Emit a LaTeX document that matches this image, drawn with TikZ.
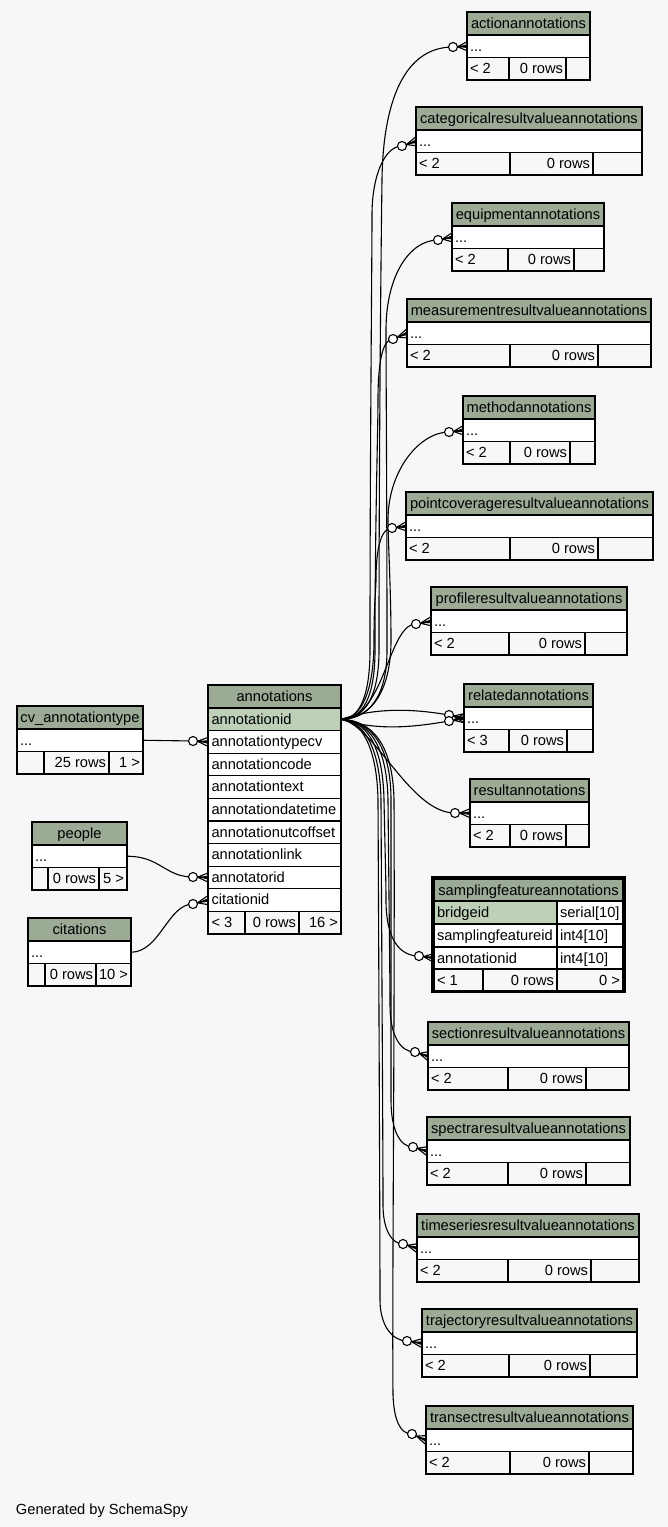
\documentclass[tikz,border=0pt]{standalone}
\usepackage{fontspec}
\setmainfont{Liberation Sans}
\usetikzlibrary{calc}
\definecolor{bg}{HTML}{F7F7F7}
\definecolor{hdr}{HTML}{9BAB96}
\definecolor{pkc}{HTML}{BED1B8}
\newcommand\tablefont{\fontsize{14.67pt}{17pt}\selectfont}
\tikzset{
  cell/.style={draw=black, line width=1.2pt, inner sep=0pt, outer sep=0pt, anchor=north west},
  head/.style={cell, fill=hdr},
  pk/.style={cell, fill=pkc},
  body/.style={cell, fill=white},
  foot/.style={cell, fill=bg},
  txt/.style={inner sep=0pt, outer sep=0pt, font=\tablefont, text=black},
  conn/.style={draw=black, line width=1.1pt},
  crowline/.style={draw=black, line width=1.1pt},
  circ/.style={circle, draw=black, fill=white, line width=1.1pt, minimum size=9pt, inner sep=0pt},
}
\newcommand\cellnode[6]{\node[#2, minimum width=#5pt, minimum height=#6pt] (#1) at (#3,#4) {};}
\newcommand\txtL[4]{\node[txt, anchor=base west] (#1) at (#2,#3) {#4};}
\newcommand\txtR[4]{\node[txt, anchor=base east] (#1) at (#2,#3) {#4};}
\newcommand\txtC[4]{\node[txt, anchor=base] (#1) at (#2,#3) {#4};}
% standard three-row table: name, x1, x2, top, c1, c2, title ; then left, mid, right footer
\newcommand\stdtable[7]{\def\tN{#1}\def\xA{#2}\def\xB{#3}\def\yT{#4}\def\cA{#5}\def\cB{#6}\def\tT{#7}\stdtableB}
\newcommand\stdtableB[3]{%
  \pgfmathsetmacro\wAll{\xB-\xA}%
  \pgfmathsetmacro\wA{\cA-\xA}%
  \pgfmathsetmacro\wB{\cB-\cA}%
  \pgfmathsetmacro\wC{\xB-\cB}%
  \pgfmathsetmacro\yR{\yT+23}%
  \pgfmathsetmacro\yF{\yT+45.5}%
  \node[head, minimum width=\wAll pt, minimum height=23pt] (\tN-h) at (\xA,\yT) {};
  \node[txt, anchor=base] (\tN-ht) at ({(\xA+\xB)/2},{\yT+16.5}) {\tT};
  \node[body, minimum width=\wAll pt, minimum height=22.5pt] (\tN-r) at (\xA,\yR) {};
  \node[txt, anchor=base west] (\tN-rt) at ({\xA+3},{\yR+16}) {...};
  \node[foot, minimum width=\wA pt, minimum height=22.5pt] (\tN-f1) at (\xA,\yF) {};
  \node[foot, minimum width=\wB pt, minimum height=22.5pt] (\tN-f2) at (\cA,\yF) {};
  \node[foot, minimum width=\wC pt, minimum height=22.5pt] (\tN-f3) at (\cB,\yF) {};
  \node[txt, anchor=base west] (\tN-f1t) at ({\xA+3},{\yF+16}) {#1};
  \node[txt, anchor=base east] (\tN-f2t) at ({\cB-3},{\yF+16}) {#2};
  \node[txt, anchor=base east] (\tN-f3t) at ({\xB-3},{\yF+16}) {#3};
}
\newcommand\crowfoot[2]{%
  \coordinate (cf-a) at ($(#1)!4.5pt!(#2)$);
  \fill[black] (cf-a) -- ($(#2)+(0,-1.8)$) -- ($(#2)+(0,1.8)$) -- cycle;
  \draw[crowline] (cf-a) -- ($(#2)+(0,-4.5)$) (cf-a) -- (#2) (cf-a) -- ($(#2)+(0,4.5)$);}
\begin{document}
\begin{tikzpicture}[x=1pt,y=-1pt]
\useasboundingbox (0,0) rectangle (668,1527);
\fill[bg] (0,0) rectangle (668,1527);

% ---------- left tables ----------
\stdtable{cv}{17}{143}{706}{44}{109}{cv\_annotationtype}{}{25 rows}{1 >}
\stdtable{peo}{32}{127}{822}{48}{99}{people}{}{0 rows}{5 >}
\stdtable{cit}{28}{131}{918}{45}{96}{citations}{}{0 rows}{10 >}

% ---------- annotations ----------
\cellnode{ann-h}{head}{208}{685}{133}{23}
\txtC{ann-ht}{274.5}{701.5}{annotations}
\cellnode{ann-id}{pk}{208}{708}{133}{22.6}
\txtL{ann-id-t}{211.5}{724}{annotationid}
\cellnode{ann-tcv}{body}{208}{730.6}{133}{22.6}
\txtL{ann-tcv-t}{211.5}{746.6}{annotationtypecv}
\cellnode{ann-code}{body}{208}{753.2}{133}{22.6}
\txtL{ann-code-t}{211.5}{769.2}{annotationcode}
\cellnode{ann-text}{body}{208}{775.8}{133}{22.6}
\txtL{ann-text-t}{211.5}{791.8}{annotationtext}
\cellnode{ann-dt}{body}{208}{798.4}{133}{22.6}
\txtL{ann-dt-t}{211.5}{814.4}{annotationdatetime}
\cellnode{ann-utc}{body}{208}{821}{133}{22.6}
\txtL{ann-utc-t}{211.5}{837}{annotationutcoffset}
\cellnode{ann-link}{body}{208}{843.6}{133}{22.6}
\txtL{ann-link-t}{211.5}{859.6}{annotationlink}
\cellnode{ann-ator}{body}{208}{866.2}{133}{22.6}
\txtL{ann-ator-t}{211.5}{882.2}{annotatorid}
\cellnode{ann-cit}{body}{208}{888.8}{133}{22.6}
\txtL{ann-cit-t}{211.5}{904.8}{citationid}
\cellnode{ann-f1}{foot}{208}{911.4}{37}{22.6}
\cellnode{ann-f2}{foot}{245}{911.4}{54}{22.6}
\cellnode{ann-f3}{foot}{299}{911.4}{42}{22.6}
\txtL{ann-f1t}{211.5}{927.4}{< 3}
\txtR{ann-f2t}{296}{927.4}{0 rows}
\txtR{ann-f3t}{338}{927.4}{16 >}

% ---------- right tables ----------
\stdtable{act}{467}{590}{12}{509}{566}{actionannotations}{< 2}{0 rows}{}
\stdtable{cat}{416}{642}{107}{510}{593}{categoricalresultvalueannotations}{< 2}{0 rows}{}
\stdtable{equ}{452}{604}{203}{508}{574}{equipmentannotations}{< 2}{0 rows}{}
\stdtable{mea}{407}{651}{299}{510}{598}{measurementresultvalueannotations}{< 2}{0 rows}{}
\stdtable{met}{463}{595}{396}{510}{570}{methodannotations}{< 2}{0 rows}{}
\stdtable{pcv}{406}{653}{492}{510}{598}{pointcoverageresultvalueannotations}{< 2}{0 rows}{}
\stdtable{pro}{431}{627}{587}{509}{585}{profileresultvalueannotations}{< 2}{0 rows}{}
\stdtable{rel}{464}{593}{684}{509}{567}{relatedannotations}{< 3}{0 rows}{}
\stdtable{res}{470}{589}{779}{510}{566}{resultannotations}{< 2}{0 rows}{}
\stdtable{sec}{428}{629}{1022}{508}{586}{sectionresultvalueannotations}{< 2}{0 rows}{}
\stdtable{spe}{427}{630}{1117}{508}{586}{spectraresultvalueannotations}{< 2}{0 rows}{}
\stdtable{tim}{417}{639}{1214}{508}{591}{timeseriesresultvalueannotations}{< 2}{0 rows}{}
\stdtable{tra}{422}{637}{1309}{509}{590}{trajectoryresultvalueannotations}{< 2}{0 rows}{}
\stdtable{trn}{426}{633}{1406}{510}{589}{transectresultvalueannotations}{< 2}{0 rows}{}

% ---------- samplingfeatureannotations ----------
\cellnode{sam-h}{head}{434}{879}{189}{22}
\txtC{sam-ht}{528.5}{895}{samplingfeatureannotations}
\cellnode{sam-b1}{pk}{434}{901}{123}{23}
\cellnode{sam-b2}{body}{557}{901}{66}{23}
\txtL{sam-b1t}{437}{917}{bridgeid}
\txtL{sam-b2t}{560}{917}{serial[10]}
\cellnode{sam-s1}{body}{434}{924}{123}{23}
\cellnode{sam-s2}{body}{557}{924}{66}{23}
\txtL{sam-s1t}{437}{940}{samplingfeatureid}
\txtL{sam-s2t}{560}{940}{int4[10]}
\cellnode{sam-a1}{body}{434}{947}{123}{22}
\cellnode{sam-a2}{body}{557}{947}{66}{22}
\txtL{sam-a1t}{437}{963}{annotationid}
\txtL{sam-a2t}{560}{963}{int4[10]}
\cellnode{sam-f1}{foot}{434}{969}{49}{21.5}
\cellnode{sam-f2}{foot}{483}{969}{74}{21.5}
\cellnode{sam-f3}{foot}{557}{969}{66}{21.5}
\txtL{sam-f1t}{437}{985}{< 1}
\txtR{sam-f2t}{554}{985}{0 rows}
\txtR{sam-f3t}{620}{985}{0 >}
\node[draw=black, line width=3pt, inner sep=0pt, outer sep=0pt, anchor=north west,
      minimum width=191.4pt, minimum height=114pt] (sam-frame) at (432.8,877.2) {};

% ---------- circle positions ----------
\coordinate (cv-c) at (193,741);
\coordinate (peo-c) at (193,877);
\coordinate (cit-c) at (193,904);
\coordinate (act-c) at (453,47);
\coordinate (cat-c) at (402,146);
\coordinate (equ-c) at (438,240);
\coordinate (mea-c) at (393,339);
\coordinate (met-c) at (449,432);
\coordinate (pcv-c) at (392,528);
\coordinate (pro-c) at (416,624);
\coordinate (rel-c1) at (449,715);
\coordinate (rel-c2) at (449,721);
\coordinate (res-c) at (455,813);
\coordinate (sam-c) at (419,956);
\coordinate (sec-c) at (415,1052);
\coordinate (spe-c) at (413,1147);
\coordinate (tim-c) at (403,1244);
\coordinate (tra-c) at (407,1341);
\coordinate (trn-c) at (412,1434);

% ---------- connectors ----------
\draw[conn] (cv-r.east) -- (cv-c);
\draw[conn] (peo-r.east) .. controls (160,856) and (165,877) .. (peo-c);
\draw[conn] (cit-r.east) .. controls (160,952) and (168,904) .. (cit-c);

\draw[conn] (ann-id.east) .. controls (366,719) and (379,695) .. (379,650) .. controls (379,450) and (381,250) .. (382,180) .. controls (383,100) and (405,47) .. (act-c);
\draw[conn] (ann-id.east) .. controls (360,719) and (370,695) .. (370,650) .. controls (370,450) and (372,260) .. (372,215) .. controls (372,175) and (385,146) .. (cat-c);
\draw[conn] (ann-id.east) .. controls (370,719) and (387,695) .. (387,650) .. controls (387,500) and (386,380) .. (386,330) .. controls (386,275) and (410,240) .. (equ-c);
\draw[conn] (ann-id.east) .. controls (364,719) and (375,695) .. (375,650) .. controls (375,520) and (378,430) .. (378,400) .. controls (378,360) and (383,339) .. (mea-c);
\draw[conn] (ann-id.east) .. controls (372,719) and (391,690) .. (391,640) .. controls (391,590) and (388,540) .. (388,520) .. controls (388,470) and (420,432) .. (met-c);
\draw[conn] (ann-id.east) .. controls (362,719) and (374,690) .. (374,640) .. controls (374,600) and (376,590) .. (376,580) .. controls (376,545) and (382,528) .. (pcv-c);
\draw[conn] (ann-id.east) .. controls (385,719) and (388,624) .. (pro-c);

\draw[conn] (ann-id.east) .. controls (380,706) and (420,710) .. (rel-c1);
\draw[conn] (ann-id.east) .. controls (380,732) and (420,726) .. (rel-c2);
\draw[conn] (ann-id.east) .. controls (375,725) and (410,813) .. (res-c);
\draw[conn] (ann-id.east) .. controls (366,720) and (383,745) .. (384,800) .. controls (385,850) and (386,880) .. (386,900) .. controls (386,940) and (400,956) .. (sam-c);
\draw[conn] (ann-id.east) .. controls (368,720) and (387,745) .. (388,800) .. controls (389,900) and (390,980) .. (390,1005) .. controls (390,1035) and (400,1052) .. (sec-c);
\draw[conn] (ann-id.east) .. controls (370,720) and (391,745) .. (391,800) .. controls (391,950) and (391,1050) .. (391,1100) .. controls (391,1130) and (400,1147) .. (spe-c);
\draw[conn] (ann-id.east) .. controls (362,720) and (380,745) .. (381,800) .. controls (382,1000) and (383,1150) .. (383,1205) .. controls (383,1230) and (392,1244) .. (tim-c);
\draw[conn] (ann-id.east) .. controls (360,720) and (377,745) .. (378,800) .. controls (379,1000) and (380,1250) .. (380,1300) .. controls (380,1325) and (392,1341) .. (tra-c);
\draw[conn] (ann-id.east) .. controls (372,720) and (393,745) .. (394,800) .. controls (395,1000) and (392,1300) .. (393,1395) .. controls (394,1420) and (400,1434) .. (trn-c);

% ---------- circles and crow feet ----------
\node[circ] (cv-o) at (cv-c) {};   \crowfoot{cv-o}{ann-tcv.west}
\node[circ] (peo-o) at (peo-c) {}; \crowfoot{peo-o}{ann-ator.west}
\node[circ] (cit-o) at (cit-c) {}; \crowfoot{cit-o}{ann-cit.west}
\node[circ] (act-o) at (act-c) {}; \crowfoot{act-o}{act-r.west}
\node[circ] (cat-o) at (cat-c) {}; \crowfoot{cat-o}{cat-r.west}
\node[circ] (equ-o) at (equ-c) {}; \crowfoot{equ-o}{equ-r.west}
\node[circ] (mea-o) at (mea-c) {}; \crowfoot{mea-o}{mea-r.west}
\node[circ] (met-o) at (met-c) {}; \crowfoot{met-o}{met-r.west}
\node[circ] (pcv-o) at (pcv-c) {}; \crowfoot{pcv-o}{pcv-r.west}
\node[circ] (pro-o) at (pro-c) {}; \crowfoot{pro-o}{pro-r.west}
\node[circ] (rel-o1) at (rel-c1) {}; \crowfoot{rel-o1}{rel-r.west}
\node[circ] (rel-o2) at (rel-c2) {}; \crowfoot{rel-o2}{rel-r.west}
\node[circ] (res-o) at (res-c) {}; \crowfoot{res-o}{res-r.west}
\node[circ] (sam-o) at (sam-c) {}; \crowfoot{sam-o}{sam-a1.west}
\node[circ] (sec-o) at (sec-c) {}; \crowfoot{sec-o}{sec-r.west}
\node[circ] (spe-o) at (spe-c) {}; \crowfoot{spe-o}{spe-r.west}
\node[circ] (tim-o) at (tim-c) {}; \crowfoot{tim-o}{tim-r.west}
\node[circ] (tra-o) at (tra-c) {}; \crowfoot{tra-o}{tra-r.west}
\node[circ] (trn-o) at (trn-c) {}; \crowfoot{trn-o}{trn-r.west}

\txtL{gen}{16}{1514}{Generated by SchemaSpy}
\end{tikzpicture}
\end{document}
